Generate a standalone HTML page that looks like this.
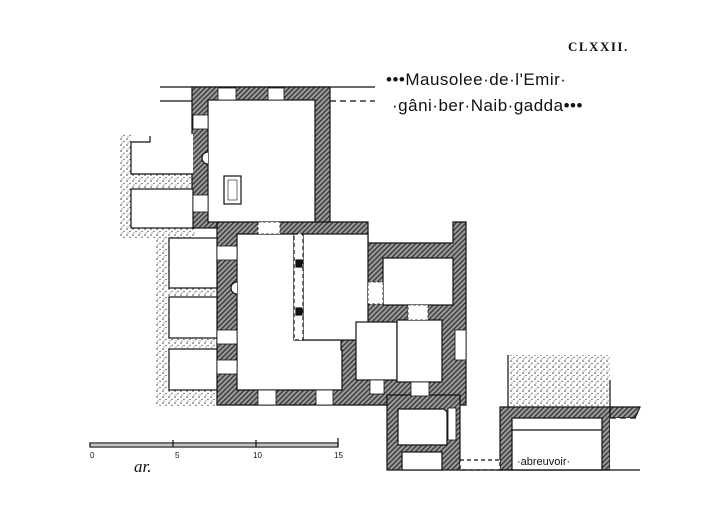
<!DOCTYPE html>
<html><head><meta charset="utf-8"><style>
html,body{margin:0;padding:0;background:#fff;width:720px;height:529px;overflow:hidden}
svg{display:block}
</style></head><body>
<svg width="720" height="529" viewBox="0 0 720 529" xmlns="http://www.w3.org/2000/svg">
<defs>
<pattern id="h" width="3.5" height="3.5" patternUnits="userSpaceOnUse" patternTransform="rotate(45)">
<rect width="3.5" height="3.5" fill="#9a9a9a"/><rect width="1.3" height="3.5" fill="#333"/>
</pattern>
<pattern id="d" width="6" height="6" patternUnits="userSpaceOnUse">
<rect width="6" height="6" fill="#fff"/><circle cx="1" cy="1" r="0.8" fill="#444"/><circle cx="4" cy="3.5" r="0.7" fill="#555"/><circle cx="2" cy="5" r="0.6" fill="#666"/>
</pattern>
</defs>
<g stroke="#111" stroke-width="1.2">
<rect x="120" y="134" width="75" height="104" fill="url(#d)" stroke="none"/>
<rect x="155" y="238" width="62" height="168" fill="url(#d)" stroke="none"/>
<rect x="508" y="355" width="102" height="52" fill="url(#d)" stroke="none"/>
<line x1="160" y1="87" x2="375" y2="87"/>
<line x1="160" y1="101" x2="192" y2="101"/>
<line x1="330" y1="101" x2="375" y2="101" stroke-dasharray="6 4"/>
<rect x="192" y="87" width="138" height="141" fill="url(#h)"/>
<polygon points="217,222 368,222 368,243 453,243 453,222 466,222 466,405 217,405" fill="url(#h)"/>
<rect x="387" y="395" width="73" height="75" fill="url(#h)"/>
<rect x="500" y="407" width="110" height="63" fill="url(#h)"/>
<polygon points="610,407 640,407 635,418 610,418" fill="url(#h)"/>
<g fill="#fff">
<rect x="208" y="100" width="107" height="122"/>
<rect x="131" y="134" width="62" height="40" stroke="none"/>
<polyline points="150,136 150,142 131,142 131,174 193,174" fill="none"/>
<rect x="131" y="189" width="62" height="39"/>
<rect x="169" y="238" width="48" height="50"/>
<rect x="169" y="297" width="48" height="41"/>
<rect x="169" y="349" width="48" height="41"/>
<polygon points="237,234 294,234 294,340 341,340 341,350 342,350 342,390 237,390"/>
<rect x="303" y="234" width="65" height="106"/>
<rect x="294" y="234" width="9" height="106" stroke-dasharray="4 3"/>
<rect x="383" y="258" width="70" height="47"/>
<rect x="356" y="322" width="41" height="58"/>
<rect x="397" y="320" width="45" height="62"/>
<polygon points="398,409 444,409 447,412 447,445 398,445"/>
<rect x="402" y="452" width="40" height="18"/>
<rect x="512" y="418" width="90" height="52"/>
<line x1="512" y1="430" x2="602" y2="430"/>
<rect x="224" y="176" width="17" height="28"/>
<rect x="228" y="180" width="9" height="20" stroke-width="0.6"/>
<rect x="460" y="460" width="40" height="10" stroke-dasharray="4 3"/>
<rect x="610" y="418" width="30" height="52" stroke="none"/>
<!-- doors -->
<rect x="218" y="88" width="18" height="12" stroke-width="0.8"/>
<rect x="268" y="88" width="16" height="12" stroke-width="0.8"/>
<rect x="258" y="222" width="22" height="12" stroke-width="0.8" stroke-dasharray="3 2"/>
<rect x="193" y="115" width="15" height="14" stroke-width="0.8"/>
<rect x="193" y="195" width="15" height="17" stroke-width="0.8"/>
<rect x="217" y="246" width="20" height="14" stroke-width="0.8"/>
<rect x="217" y="330" width="20" height="14" stroke-width="0.8"/>
<rect x="217" y="360" width="20" height="14" stroke-width="0.8"/>
<rect x="258" y="390" width="18" height="15" stroke-width="0.8"/>
<rect x="316" y="390" width="17" height="15" stroke-width="0.8"/>
<rect x="368" y="282" width="15" height="22" stroke-width="0.8" stroke-dasharray="3 2"/>
<rect x="408" y="305" width="20" height="15" stroke-width="0.8" stroke-dasharray="3 2"/>
<rect x="370" y="380" width="14" height="14" stroke-width="0.8"/>
<rect x="411" y="382" width="18" height="14" stroke-width="0.8"/>
<rect x="455" y="330" width="11" height="30" stroke-width="0.8"/>
<rect x="448" y="408" width="8" height="32" stroke-width="0.8"/>
</g>
<path d="M208,152 a6,6 0 0 0 0,12" fill="#fff"/>
<path d="M237,282 a6,6 0 0 0 0,12" fill="#fff"/>
<rect x="296" y="260" width="6" height="7" fill="#111"/>
<rect x="296" y="308" width="6" height="7" fill="#111"/>
<line x1="460" y1="470" x2="640" y2="470"/>
<line x1="610" y1="418" x2="640" y2="418" stroke-dasharray="6 4"/>
<line x1="508" y1="355" x2="508" y2="407"/>
<line x1="610" y1="380" x2="610" y2="407"/>
<rect x="90" y="443" width="248" height="4" fill="#fff"/>
<line x1="90" y1="445" x2="338" y2="445" stroke-width="0.6"/>
<line x1="173" y1="440" x2="173" y2="447"/>
<line x1="256" y1="440" x2="256" y2="447"/>
<line x1="338" y1="438" x2="338" y2="447"/>
</g>
<g font-family="'Liberation Sans',sans-serif" fill="#111">
<text x="568" y="51" font-family="'Liberation Serif',serif" font-weight="bold" font-size="13" letter-spacing="1.5">CLXXII.</text>
<text x="386" y="85" font-size="17" letter-spacing="0.5">•••Mausolee·de·l'Emir·</text>
<text x="392" y="111" font-size="17" letter-spacing="0.5">·gâni·ber·Naib·gadda•••</text>
<text x="517" y="465" font-size="11">·abreuvoir·</text>
<text x="90" y="458" font-size="8">0</text>
<text x="175" y="458" font-size="8">5</text>
<text x="253" y="458" font-size="8">10</text>
<text x="334" y="458" font-size="8">15</text>
<text x="134" y="472" font-size="17" font-style="italic" font-family="'Liberation Serif',serif">ar.</text>
</g>
</svg>
</body></html>
